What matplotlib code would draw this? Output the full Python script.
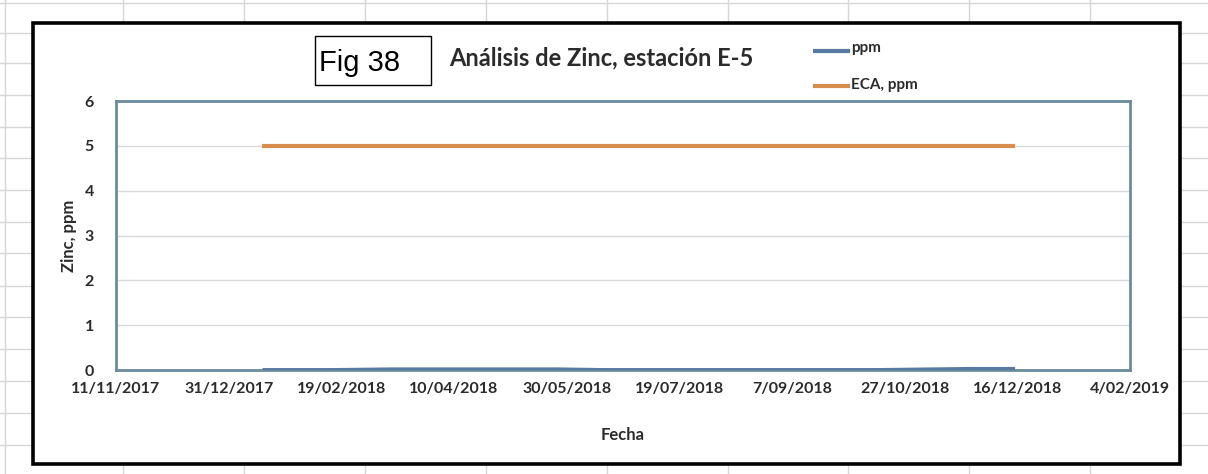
import matplotlib.pyplot as plt
import pandas as pd
from matplotlib.patches import Rectangle

# sample dates and values
sample_dates = ["2018-01-15", "2018-02-15", "2018-03-14", "2018-04-15", "2018-05-26",
                "2018-06-15", "2018-07-15", "2018-08-15", "2018-09-15", "2018-10-15",
                "2018-11-26", "2018-12-15"]
zinc_ppm = [0.005, 0.005, 0.02, 0.02, 0.02, 0.005, 0.005, 0.005, 0.005, 0.005, 0.03, 0.03]
eca_ppm = [5, 5, 5, 5, 5, 5, 5, 5, 5, 5, 5, 5]

tick_dates = ["2017-11-11", "2017-12-31", "2018-02-19", "2018-04-10", "2018-05-30",
              "2018-07-19", "2018-09-07", "2018-10-27", "2018-12-16", "2019-02-04"]
tick_labels = ["11/11/2017", "31/12/2017", "19/02/2018", "10/04/2018", "30/05/2018",
               "19/07/2018", "7/09/2018", "27/10/2018", "16/12/2018", "4/02/2019"]
y_ticks = [0, 1, 2, 3, 4, 5, 6]

W, H = 1208, 474
BLUE = "#587aa0"
ORANGE = "#d88c4e"
TXT = "#2b2b2b"
FONT = "Lato"

fig = plt.figure(figsize=(W / 100, H / 100), dpi=100)
fig.patch.set_facecolor("white")

# spreadsheet background in pixel coordinates
bg = fig.add_axes([0, 0, 1, 1])
bg.set_xlim(0, W)
bg.set_ylim(H, 0)
bg.set_axis_off()
for x in [5, 123, 244, 365, 486, 607, 728, 848, 969, 1090]:
    bg.axvline(x, color="#d6d6d6", lw=1, zorder=1)
for y in [3, 33, 63, 95, 127, 158, 190, 222, 253, 286, 317, 349, 381, 413, 445]:
    bg.axhline(y, color="#d6d6d6", lw=1, zorder=1)
bg.add_patch(Rectangle((33, 23), 1147, 441, facecolor="white", edgecolor="black",
                       lw=2.6, zorder=5))

# Fig 38 box and title
bg.add_patch(Rectangle((315, 36), 116, 49, facecolor="white", edgecolor="black", lw=1, zorder=6))
bg.text(319, 63, "Fig 38", fontsize=21, family="Liberation Sans", va="center", ha="left", zorder=7)
bg.text(601, 58, "Análisis de Zinc, estación E-5", fontsize=17, family=FONT,
        weight="bold", color=TXT, ha="center", va="center", zorder=7)

# legend drawn by hand like the Excel one
bg.plot([813, 850], [51, 51], color=BLUE, lw=3, solid_capstyle="butt", zorder=7)
bg.text(851, 48, "ppm", fontsize=11, family=FONT, weight="bold", color=TXT, va="center", zorder=7)
bg.plot([813, 850], [86, 86], color=ORANGE, lw=3, solid_capstyle="butt", zorder=7)
bg.text(851, 85, "ECA, ppm", fontsize=11, family=FONT, weight="bold", color=TXT, va="center", zorder=7)

# main chart area
left, right, top, bottom = 116, 1130, 101, 370
ax = fig.add_axes([left / W, 1 - bottom / H, (right - left) / W, (bottom - top) / H])
ax.set_facecolor("white")

dates = pd.to_datetime(sample_dates)
ax.plot(dates, eca_ppm, color=ORANGE, lw=3, solid_capstyle="butt", zorder=3)
ax.plot(dates, zinc_ppm, color=BLUE, lw=2.5, solid_capstyle="butt", zorder=4)

ax.set_xlim(pd.Timestamp(tick_dates[0]), pd.Timestamp(tick_dates[-1]))
ax.set_ylim(0, 6)
ax.set_xticks(pd.to_datetime(tick_dates))
ax.set_xticklabels(tick_labels)
ax.set_yticks(y_ticks)
ax.grid(axis="y", color="#d9d9d9", lw=1)
ax.set_axisbelow(True)
ax.tick_params(length=0, pad=9)
ax.tick_params(axis="y", pad=16)
for lab in ax.get_xticklabels() + ax.get_yticklabels():
    lab.set_family(FONT)
    lab.set_weight("bold")
    lab.set_fontsize(11.5)
    lab.set_color(TXT)
for sp in ax.spines.values():
    sp.set_color("#6b8c9c")
    sp.set_linewidth(2)

ax.set_xlabel("Fecha", family=FONT, weight="bold", fontsize=12, color=TXT, labelpad=22)
ax.set_ylabel("Zinc, ppm", family=FONT, weight="bold", fontsize=12, color=TXT, labelpad=5)

fig.savefig("out.png", dpi=100)
